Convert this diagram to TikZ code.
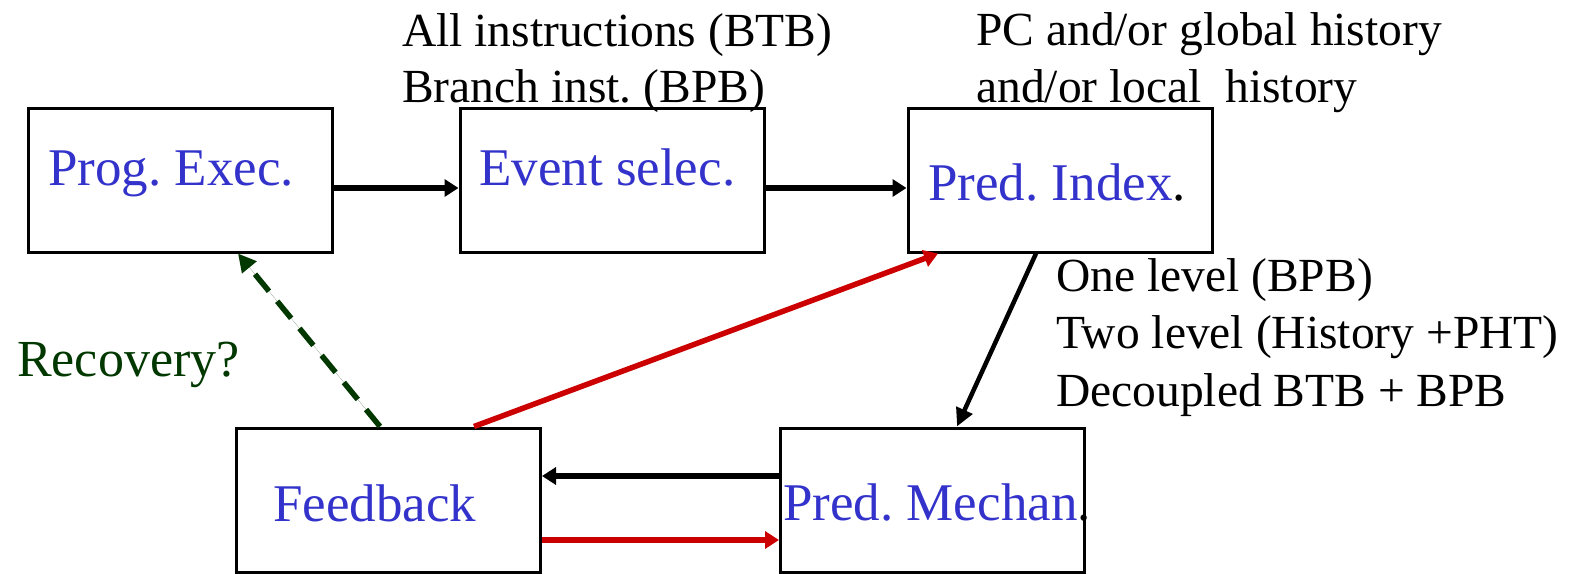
\documentclass[tikz,border=0pt]{standalone}
\usepackage{fontspec}
\setmainfont{Liberation Serif}
\usetikzlibrary{arrows.meta}
\definecolor{lblue}{RGB}{51,51,204}
\definecolor{dgreen}{RGB}{0,56,0}
\definecolor{dred}{RGB}{204,0,0}
\frenchspacing
\tikzset{
  blk/.style={draw=black, line width=3pt, minimum width=304pt, minimum height=144pt, inner sep=0pt},
  lab/.style={anchor=base west, inner sep=0pt, font=\fontsize{53}{60}\selectfont, text=lblue},
  note/.style={anchor=base west, inner sep=0pt, font=\fontsize{47.5}{57}\selectfont, text=black},
  conn/.style={line width=5.5pt, -{Triangle[length=14pt,width=17pt]}},
}
\begin{document}
\begin{tikzpicture}[x=1pt,y=-1pt]
\useasboundingbox (0,0) rectangle (1587,573);
\node[blk] (b1) at (180,180) {};
\node[blk] (b2) at (612,180) {};
\node[blk] (b3) at (1060,180) {};
\node[blk] (b4) at (388.5,500) {};
\node[blk] (b5) at (932.5,500) {};

\node[lab] (t1) at (48,185) {Prog. Exec.};
\node[lab] (t2) at (479,185) {Event selec.};
\node[lab] (t3) at (928,200) {Pred. Index\textcolor{black}{.}};
\node[lab] (t4) at (273,521) {Feedback};
\node[lab] (t5) at (783,520) {Pred. Mechan\textcolor{black}{.}};
\node[lab, text=dgreen, font=\fontsize{52}{60}\selectfont] (rec) at (17,376) {Recovery?};

\node[note] (n1) at (402,46) {All instructions (BTB)};
\node[note] (n2) at (402,102) {Branch inst. (BPB)};
\node[note] (n3) at (976,45) {PC and/or global history};
\node[note] (n4) at (976,102) {and/or local \ history};
\node[note] (n5) at (1056,291) {One level (BPB)};
\node[note] (n6) at (1056,348) {Two level (History +PHT)};
\node[note] (n7) at (1056,406) {Decoupled BTB + BPB};

\draw[conn] ([yshift=-8pt]b1.east) -- ([yshift=-8pt]b2.west);
\draw[conn] ([yshift=-8pt]b2.east) -- ([yshift=-8pt]b3.west);
\draw[conn, line width=4.5pt, -{Triangle[length=18pt,width=17pt]}] ([xshift=-24pt]b3.south) -- ([xshift=24.5pt]b5.north);
\draw[conn, draw=dred, fill=dred] ([xshift=85.5pt]b4.north) -- ([xshift=-122pt]b3.south);
\draw[conn, draw=dgreen, fill=dgreen, dash pattern=on 22pt off 13pt, -{Triangle[length=18pt,width=18pt]}] ([xshift=-8.5pt]b4.north) -- ([xshift=58pt]b1.south);
\draw[conn] ([yshift=24pt]b5.west) -- ([yshift=24pt]b4.east);
\draw[conn, draw=dred, fill=dred] ([yshift=-40pt]b4.east) -- ([yshift=-40pt]b5.west);
\end{tikzpicture}
\end{document}
